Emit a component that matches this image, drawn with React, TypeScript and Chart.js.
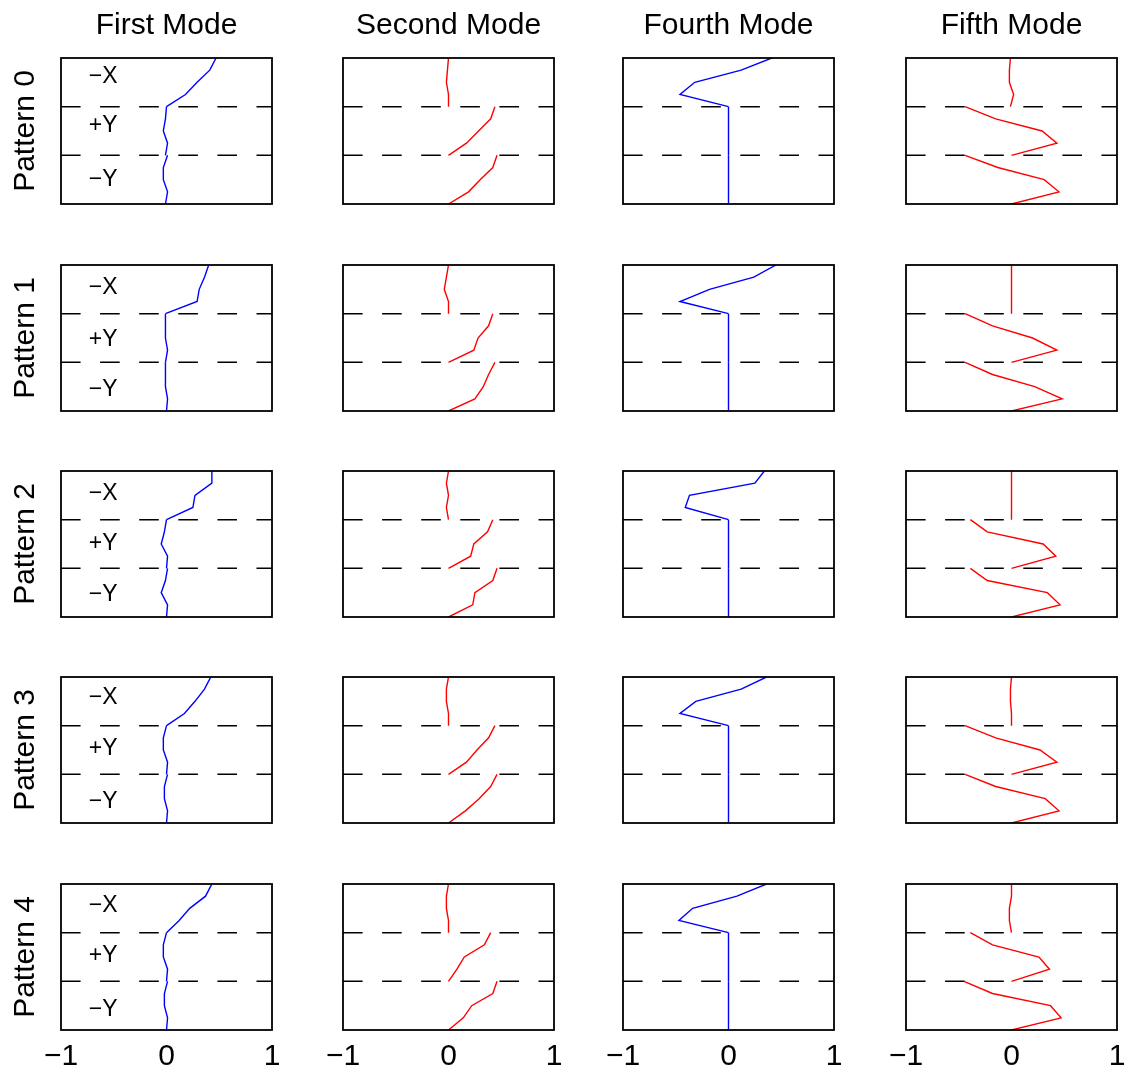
import React, { useEffect, useRef } from "react";
import { Chart, registerables } from "chart.js";

Chart.register(...registerables);

// ---------- data ----------
const modeNames = ["First Mode", "Second Mode", "Fourth Mode", "Fifth Mode"];
const patternNames = ["Pattern 0", "Pattern 1", "Pattern 2", "Pattern 3", "Pattern 4"];
const regionNames = ["\u2212X", "+Y", "\u2212Y"];
const xTicks = [-1, 0, 1];
const xTickLabels = ["\u22121", "0", "1"];
// y levels of the 5 nodes in each region (top region first)
const regionLevels = [
  [12, 11, 10, 9, 8],
  [8, 7, 6, 5, 4],
  [4, 3, 2, 1, 0],
];
const boundaryLevels = [8, 4];

// each row: Pattern n, 15 values = −X (5), +Y (5), −Y (5), top to bottom
const firstMode = [
  [0.47, 0.41, 0.29, 0.18, 0.0, 0.0, -0.01, -0.03, 0.01, -0.01, 0.01, -0.03, -0.03, 0.01, -0.01],
  [0.4, 0.36, 0.31, 0.29, -0.01, -0.01, -0.01, -0.01, 0.01, -0.01, -0.01, -0.01, -0.01, 0.01, 0.0],
  [0.43, 0.43, 0.27, 0.25, 0.0, 0.0, -0.02, -0.05, 0.01, 0.0, 0.01, -0.01, -0.05, 0.01, 0.0],
  [0.42, 0.36, 0.27, 0.17, 0.0, 0.0, -0.03, -0.03, 0.01, 0.0, 0.01, -0.02, -0.02, 0.01, 0.0],
  [0.43, 0.37, 0.22, 0.12, 0.0, 0.0, -0.03, -0.03, 0.01, 0.0, 0.01, -0.02, -0.02, 0.01, 0.0],
];
const secondMode = [
  [0.0, -0.01, -0.02, 0.0, 0.0, 0.44, 0.4, 0.285, 0.17, 0.0, 0.46, 0.42, 0.3, 0.19, 0.0],
  [0.0, -0.02, -0.04, 0.0, 0.0, 0.42, 0.38, 0.28, 0.24, 0.0, 0.44, 0.38, 0.33, 0.25, 0.0],
  [0.0, -0.02, 0.0, -0.02, 0.0, 0.42, 0.37, 0.24, 0.21, 0.0, 0.46, 0.42, 0.25, 0.23, 0.0],
  [0.0, -0.02, -0.02, 0.0, 0.0, 0.44, 0.38, 0.27, 0.17, 0.0, 0.46, 0.4, 0.29, 0.16, 0.0],
  [0.0, -0.02, -0.02, 0.0, 0.0, 0.4, 0.34, 0.15, 0.08, 0.0, 0.46, 0.42, 0.22, 0.14, 0.0],
];
const fourthMode = [
  [0.41, 0.12, -0.32, -0.46, 0.0, 0, 0, 0, 0, 0, 0, 0, 0, 0, 0],
  [0.45, 0.24, -0.18, -0.46, 0.0, 0, 0, 0, 0, 0, 0, 0, 0, 0, 0],
  [0.34, 0.25, -0.37, -0.41, 0.0, 0, 0, 0, 0, 0, 0, 0, 0, 0, 0],
  [0.36, 0.12, -0.31, -0.46, 0.0, 0, 0, 0, 0, 0, 0, 0, 0, 0, 0],
  [0.36, 0.08, -0.34, -0.47, 0.0, 0, 0, 0, 0, 0, 0, 0, 0, 0, 0],
];
const fifthMode = [
  [-0.01, -0.02, -0.02, 0.02, -0.01, -0.44, -0.15, 0.29, 0.43, 0.0, -0.44, -0.13, 0.31, 0.45, 0.0],
  [0.0, 0.0, 0.0, 0.0, 0.0, -0.44, -0.18, 0.2, 0.43, 0.0, -0.44, -0.18, 0.22, 0.48, 0.0],
  [0.0, 0.0, 0.0, 0.0, 0.0, -0.39, -0.23, 0.3, 0.42, 0.0, -0.39, -0.23, 0.34, 0.46, 0.0],
  [0.0, -0.01, -0.01, 0.0, 0.0, -0.44, -0.15, 0.27, 0.43, 0.0, -0.44, -0.15, 0.32, 0.45, 0.0],
  [0.0, 0.0, -0.02, -0.02, 0.0, -0.39, -0.18, 0.26, 0.36, 0.0, -0.45, -0.18, 0.37, 0.47, 0.0],
];
const modeData = [firstMode, secondMode, fourthMode, fifthMode];
const modeColors = ["#0000ff", "#ff0000", "#0000ff", "#ff0000"];

// ---------- layout ----------
const FONT = "'Liberation Sans', Arial, Helvetica, sans-serif";
const PAGE_W = 1136;
const PAGE_H = 1077;
const PLOT_W = 211;
const PLOT_H = 146;
const colLefts = [61, 343, 623, 906];
const rowTops = [58, 265, 471, 677, 884];
const PAD = 32;
const labelX = -0.6;
// vertical placement of the region labels, per pattern row (in y-axis units)
const labelPlacement = [
  [10.5, 6.4, 2.0],
  [10.1, 5.9, 1.75],
  [10.1, 6.0, 1.8],
  [10.3, 6.1, 1.75],
  [10.25, 6.1, 1.65],
];

if (typeof document !== "undefined") {
  document.body.style.margin = "0";
}

const framePlugin = {
  id: "frame",
  afterDraw(chart: any) {
    const { ctx, chartArea } = chart;
    ctx.save();
    ctx.strokeStyle = "#000";
    ctx.lineWidth = 1.8;
    ctx.strokeRect(chartArea.left, chartArea.top, chartArea.right - chartArea.left, chartArea.bottom - chartArea.top);
    ctx.restore();
  },
};

const regionLabelPlugin = {
  id: "regionLabels",
  afterDatasetsDraw(chart: any, _args: any, opts: any) {
    if (!opts || !opts.show) return;
    const { ctx, scales } = chart;
    const levels: number[] = opts.levels;
    ctx.save();
    ctx.fillStyle = "#000";
    ctx.font = `23px ${FONT}`;
    ctx.textAlign = "center";
    ctx.textBaseline = "middle";
    regionNames.forEach((name, i) => {
      ctx.fillText(name, scales.x.getPixelForValue(labelX), scales.y.getPixelForValue(levels[i]));
    });
    ctx.restore();
  },
};

function Panel({ row, col }: { row: number; col: number }) {
  const ref = useRef<HTMLCanvasElement>(null);
  const isTop = row === 0;
  const isBottom = row === 4;
  const isLeft = col === 0;
  // left column: a blank right-side box of the same width as the left one keeps the title centred on the plot
  const rightBox = isLeft ? colLefts[0] : 0;
  const left = isLeft ? 0 : colLefts[col] - PAD;
  const top = isTop ? 0 : rowTops[row] - PAD;
  const width = colLefts[col] + PLOT_W + PAD + rightBox - left;
  const height = isBottom ? PAGE_H - top : rowTops[row] + PLOT_H + PAD - top;
  const axisH = PAGE_H - (rowTops[4] + PLOT_H);

  useEffect(() => {
    const values = modeData[col][row];
    const color = modeColors[col];
    const datasets: any[] = [];
    regionLevels.forEach((levels, s) => {
      datasets.push({
        data: levels.map((y, i) => ({ x: values[s * 5 + i], y })),
        borderColor: color,
        borderWidth: 1.4,
        pointRadius: 0,
        fill: false,
        tension: 0,
      });
    });
    boundaryLevels.forEach((b) => {
      datasets.push({
        data: [
          { x: -1, y: b },
          { x: 1, y: b },
        ],
        borderColor: "#000",
        borderWidth: 1.5,
        borderDash: [19.6, 19.5],
        pointRadius: 0,
        fill: false,
      });
    });
    const font = { family: FONT, size: 30, weight: "normal" as const };
    const scales: any = {
      x: {
        type: "linear",
        min: -1,
        max: 1,
        display: isBottom,
        grid: { display: false, drawTicks: false },
        border: { display: false },
        ticks: {
          stepSize: 1,
          color: "#000",
          font,
          padding: 9,
          maxRotation: 0,
          callback: (v: any) => {
            const k = xTicks.indexOf(Number(v));
            return k >= 0 ? xTickLabels[k] : "";
          },
        },
        afterFit: (s: any) => {
          s.height = isBottom ? axisH : 0;
        },
      },
      y: {
        type: "linear",
        min: 0,
        max: 12,
        display: isLeft,
        grid: { display: false, drawTicks: false },
        border: { display: false },
        ticks: { display: false },
        title: {
          display: true,
          text: patternNames[row],
          color: "#000",
          font,
          padding: { top: 8, bottom: 0 },
        },
        afterFit: (s: any) => {
          s.width = isLeft ? colLefts[0] : 0;
        },
      },
    };
    if (isLeft) {
      scales.yr = {
        type: "linear",
        position: "right",
        min: 0,
        max: 12,
        display: true,
        grid: { display: false, drawTicks: false },
        border: { display: false },
        ticks: { display: false },
        afterFit: (s: any) => {
          s.width = rightBox;
        },
      };
    }
    const chart = new Chart(ref.current as HTMLCanvasElement, {
      type: "line",
      data: { datasets },
      options: {
        responsive: false,
        animation: false,
        events: [],
        layout: {
          padding: {
            left: isLeft ? 0 : PAD,
            right: PAD,
            top: isTop ? 0 : PAD,
            bottom: isBottom ? 0 : PAD,
          },
        },
        plugins: {
          legend: { display: false },
          tooltip: { enabled: false },
          title: {
            display: isTop,
            text: modeNames[col],
            color: "#000",
            font,
            padding: { top: 8, bottom: 14 },
          },
          regionLabels: { show: isLeft, levels: labelPlacement[row] },
        } as any,
        scales,
      },
      plugins: [framePlugin, regionLabelPlugin],
    });
    return () => chart.destroy();
  }, [row, col]);

  return (
    <canvas
      ref={ref}
      width={width}
      height={height}
      style={{ position: "absolute", left, top, width, height }}
    />
  );
}

export default function App() {
  const panels: any[] = [];
  for (let r = 0; r < 5; r++) {
    for (let c = 0; c < 4; c++) {
      panels.push(<Panel key={`${r}-${c}`} row={r} col={c} />);
    }
  }
  return (
    <div style={{ position: "relative", width: PAGE_W, height: PAGE_H, background: "#fff", overflow: "hidden" }}>
      {panels}
    </div>
  );
}
